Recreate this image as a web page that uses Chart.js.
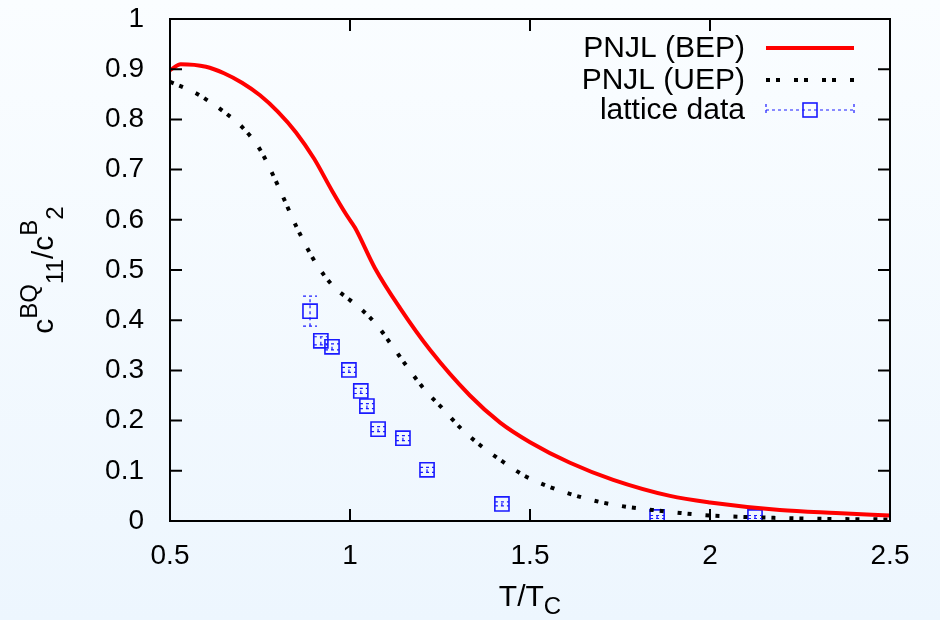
<!DOCTYPE html>
<html>
<head>
<meta charset="utf-8">
<script src="https://cdn.jsdelivr.net/npm/chart.js@4"></script>
<style>
  html, body { margin: 0; padding: 0; }
  body { width: 940px; height: 620px; background: linear-gradient(to bottom, #fafdff, #edf6fe); }
  #wrap { width: 940px; height: 620px; }
</style>
</head>
<body>
<div id="wrap"><canvas id="chart" width="940" height="620"></canvas></div>
<script>
// PNJL with BEP
var bepT = [0.5, 0.53, 0.6, 0.65, 0.7, 0.75, 0.8, 0.85, 0.9, 0.95, 0.99, 1.014, 1.069, 1.139, 1.222, 1.333, 1.417, 1.5, 1.611, 1.731, 1.889, 2.0, 2.194, 2.35, 2.5];
var bepVal = [0.898, 0.910, 0.905, 0.892, 0.873, 0.848, 0.815, 0.774, 0.722, 0.658, 0.610, 0.584, 0.504, 0.424, 0.341, 0.250, 0.196, 0.157, 0.116, 0.082, 0.050, 0.037, 0.022, 0.016, 0.011];

// PNJL with UEP
var uepT = [0.5, 0.57, 0.6, 0.65, 0.7, 0.75, 0.8, 0.85, 0.903, 0.953, 1.0, 1.028, 1.075, 1.119, 1.161, 1.208, 1.256, 1.306, 1.36, 1.417, 1.48, 1.547, 1.62, 1.694, 1.77, 1.84, 1.917, 2.0, 2.1, 2.25, 2.5];
var uepVal = [0.875, 0.853, 0.840, 0.815, 0.785, 0.740, 0.668, 0.588, 0.516, 0.468, 0.440, 0.424, 0.390, 0.347, 0.305, 0.261, 0.225, 0.186, 0.152, 0.122, 0.092, 0.070, 0.052, 0.038, 0.028, 0.022, 0.016, 0.011, 0.008, 0.005, 0.003];

// lattice data with errors
var latT = [0.889, 0.919, 0.95, 0.997, 1.03, 1.047, 1.078, 1.147, 1.214, 1.422, 1.853, 2.125];
var latVal = [0.418, 0.359, 0.347, 0.301, 0.259, 0.229, 0.183, 0.165, 0.102, 0.034, 0.008, 0.008];
var latErr = [0.03, 0.008, 0.006, 0.005, 0.005, 0.005, 0.005, 0.005, 0.005, 0.004, 0.003, 0.003];

var xTicks = [0.5, 1, 1.5, 2, 2.5];
var legendLabels = ['PNJL (BEP)', 'PNJL (UEP)', 'lattice data'];

var FONT = "'Liberation Sans', Arial, Helvetica, sans-serif";
var RED = '#ff0000';
var BLUE = '#1a1aff';
var uepDash = [4, 6, 4, 14];

function pts(xs, ys) {
    return xs.map(function (x, i) { return { x: x, y: ys[i] }; });
}

// inward ticks on all four sides + frame
var framePlugin = {
    id: 'frame',
    afterDraw: function (chart) {
        var ctx = chart.ctx, a = chart.chartArea;
        var xs = chart.scales.x, ys = chart.scales.y;
        var len = 12;
        ctx.save();
        ctx.strokeStyle = '#000';
        ctx.lineWidth = 2;
        ctx.beginPath();
        xs.ticks.forEach(function (t) {
            var px = xs.getPixelForValue(t.value);
            ctx.moveTo(px, a.bottom); ctx.lineTo(px, a.bottom - len);
            ctx.moveTo(px, a.top); ctx.lineTo(px, a.top + len);
        });
        ys.ticks.forEach(function (t) {
            var py = ys.getPixelForValue(t.value);
            ctx.moveTo(a.left, py); ctx.lineTo(a.left + len, py);
            ctx.moveTo(a.right, py); ctx.lineTo(a.right - len, py);
        });
        ctx.stroke();
        ctx.strokeRect(a.left, a.top, a.right - a.left, a.bottom - a.top);
        ctx.restore();
    }
};

// error bars for the lattice points
var errorBarPlugin = {
    id: 'errorBars',
    afterDatasetsDraw: function (chart) {
        var ctx = chart.ctx, xs = chart.scales.x, ys = chart.scales.y;
        ctx.save();
        ctx.strokeStyle = BLUE;
        ctx.lineWidth = 1.2;
        ctx.setLineDash([3, 3]);
        ctx.beginPath();
        latT.forEach(function (t, i) {
            var px = xs.getPixelForValue(t);
            var lo = ys.getPixelForValue(latVal[i] - latErr[i]);
            var hi = ys.getPixelForValue(latVal[i] + latErr[i]);
            ctx.moveTo(px, lo); ctx.lineTo(px, hi);
            ctx.moveTo(px - 7, lo); ctx.lineTo(px + 7, lo);
            ctx.moveTo(px - 7, hi); ctx.lineTo(px + 7, hi);
        });
        ctx.stroke();
        ctx.restore();
    }
};

// draws a run of text pieces with super/subscripts
function drawPieces(ctx, pieces, x, y) {
    var total = 0;
    pieces.forEach(function (p) {
        ctx.font = p.size + 'px ' + FONT;
        p.w = ctx.measureText(p.t).width;
        total += p.w;
    });
    var cx = x - total / 2;
    pieces.forEach(function (p) {
        ctx.font = p.size + 'px ' + FONT;
        ctx.fillText(p.t, cx, y + p.dy);
        cx += p.w;
    });
}

var titlesPlugin = {
    id: 'titles',
    afterDraw: function (chart) {
        var ctx = chart.ctx, a = chart.chartArea;
        ctx.save();
        ctx.fillStyle = '#000';
        ctx.textAlign = 'left';
        ctx.textBaseline = 'alphabetic';
        drawPieces(ctx, [
            { t: 'T/T', size: 30, dy: 0 },
            { t: 'C', size: 24, dy: 8 }
        ], (a.left + a.right) / 2, 606);

        ctx.translate(53, (a.top + a.bottom) / 2);
        ctx.rotate(-Math.PI / 2);
        drawPieces(ctx, [
            { t: 'c', size: 30, dy: 0 },
            { t: 'BQ', size: 24, dy: -16 },
            { t: '11', size: 24, dy: 10 },
            { t: '/c', size: 30, dy: 0 },
            { t: 'B', size: 24, dy: -16 },
            { t: '2', size: 24, dy: 10 }
        ], 0, 0);
        ctx.restore();
    }
};

var legendPlugin = {
    id: 'keyBox',
    afterDraw: function (chart) {
        var ctx = chart.ctx;
        var rows = [48, 80, 110];
        var x0 = 766, x1 = 854, textRight = 745;
        ctx.save();
        ctx.fillStyle = '#000';
        ctx.font = '30px ' + FONT;
        ctx.textAlign = 'right';
        ctx.textBaseline = 'middle';
        legendLabels.forEach(function (l, i) { ctx.fillText(l, textRight, rows[i] + 1); });

        ctx.strokeStyle = RED; ctx.lineWidth = 4;
        ctx.beginPath(); ctx.moveTo(x0, rows[0]); ctx.lineTo(x1, rows[0]); ctx.stroke();

        ctx.strokeStyle = '#000'; ctx.lineWidth = 4; ctx.setLineDash(uepDash);
        ctx.beginPath(); ctx.moveTo(x0, rows[1]); ctx.lineTo(x1, rows[1]); ctx.stroke();

        ctx.strokeStyle = BLUE; ctx.lineWidth = 1.2; ctx.setLineDash([3, 3]);
        ctx.beginPath();
        ctx.moveTo(x0, rows[2]); ctx.lineTo(x1, rows[2]);
        ctx.moveTo(x0, rows[2] - 6); ctx.lineTo(x0, rows[2] + 6);
        ctx.moveTo(x1, rows[2] - 6); ctx.lineTo(x1, rows[2] + 6);
        ctx.stroke();
        ctx.setLineDash([]); ctx.lineWidth = 1.6;
        ctx.strokeRect((x0 + x1) / 2 - 7, rows[2] - 7, 14, 14);
        ctx.restore();
    }
};

new Chart(document.getElementById('chart'), {
    type: 'scatter',
    data: {
        datasets: [{
            label: legendLabels[2],
            data: pts(latT, latVal),
            showLine: false,
            pointStyle: 'rect',
            pointRadius: 10,
            borderColor: BLUE,
            backgroundColor: 'rgba(0,0,0,0)',
            borderWidth: 1.6,
            order: 3
        }, {
            label: legendLabels[1],
            data: pts(uepT, uepVal),
            showLine: true,
            borderColor: '#000',
            borderWidth: 4,
            borderDash: uepDash,
            pointRadius: 0,
            cubicInterpolationMode: 'monotone',
            order: 2
        }, {
            label: legendLabels[0],
            data: pts(bepT, bepVal),
            showLine: true,
            borderColor: RED,
            borderWidth: 4,
            pointRadius: 0,
            cubicInterpolationMode: 'monotone',
            order: 1
        }]
    },
    options: {
        responsive: false,
        animation: false,
        layout: { padding: { left: 0, right: 50, top: 19, bottom: 0 } },
        plugins: {
            legend: { display: false },
            tooltip: { enabled: false }
        },
        scales: {
            x: {
                type: 'linear',
                min: 0.5,
                max: 2.5,
                afterBuildTicks: function (s) { s.ticks = xTicks.map(function (v) { return { value: v }; }); },
                afterFit: function (s) { s.height = 99; s.paddingLeft = 0; s.paddingRight = 0; },
                grid: { display: false },
                border: { display: false },
                ticks: {
                    color: '#000',
                    padding: 10,
                    maxRotation: 0,
                    font: { family: FONT, size: 28 },
                    callback: function (v) { return String(+v.toFixed(1)); }
                }
            },
            y: {
                type: 'linear',
                min: 0,
                max: 1,
                afterFit: function (s) { s.width = 170; s.paddingTop = 0; s.paddingBottom = 0; },
                grid: { display: false },
                border: { display: false },
                ticks: {
                    stepSize: 0.1,
                    color: '#000',
                    padding: 18,
                    font: { family: FONT, size: 28 },
                    callback: function (v) { return String(+v.toFixed(1)); }
                }
            }
        }
    },
    plugins: [errorBarPlugin, framePlugin, titlesPlugin, legendPlugin]
});
</script>
</body>
</html>
